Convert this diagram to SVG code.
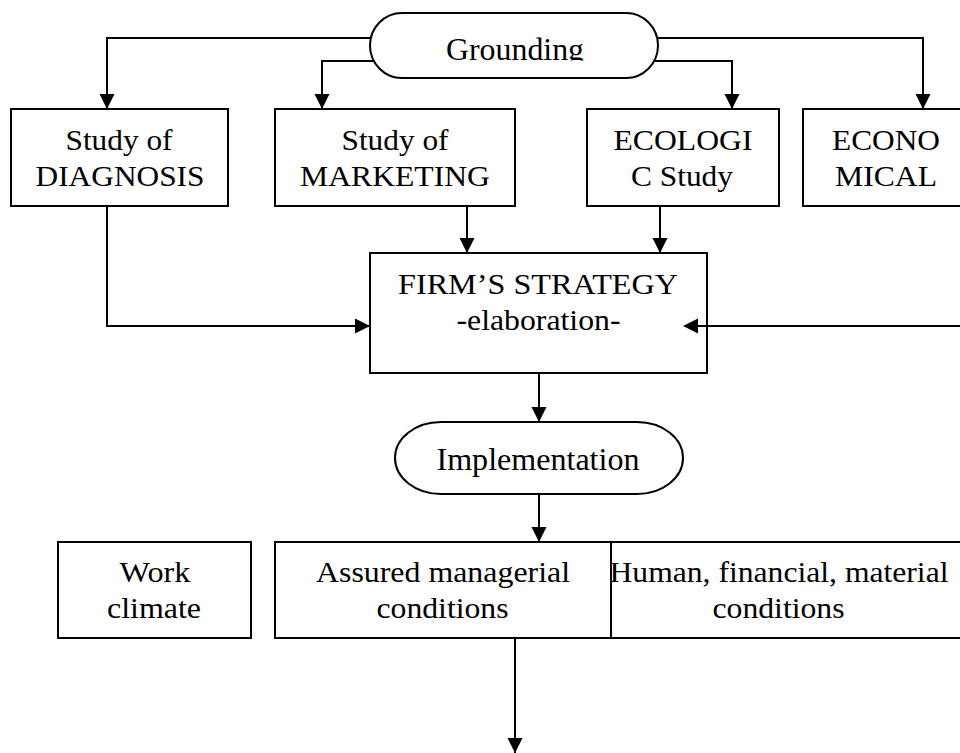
<svg xmlns="http://www.w3.org/2000/svg" width="960" height="753" viewBox="0 0 960 753">
  <style>
    .box { fill: #fff; stroke: #000; stroke-width: 2; }
    .wire { fill: none; stroke: #000; stroke-width: 2; }
    .lbl { font-family: "Liberation Serif", "Times New Roman", serif; font-size: 29px; fill: #000; text-anchor: middle; }
    .term { font-size: 32px; }
  </style>
  <defs>
    <marker id="arrow" markerUnits="userSpaceOnUse" markerWidth="16" markerHeight="16" viewBox="0 0 16 16" refX="15" refY="8" orient="auto">
      <path d="M0,0.5 L15,8 L0,15.5 Z" fill="#000"/>
    </marker>
    <clipPath id="groundClip">
      <rect x="370" y="13" width="290" height="47.5"/>
    </clipPath>
  </defs>

  <!-- connectors -->
  <g id="connectors">
    <polyline class="wire" points="372,38 107,38 107,109" marker-end="url(#arrow)"/>
    <polyline class="wire" points="375,61 322,61 322,109" marker-end="url(#arrow)"/>
    <polyline class="wire" points="655,61 732,61 732,109" marker-end="url(#arrow)"/>
    <polyline class="wire" points="656,38 923,38 923,109" marker-end="url(#arrow)"/>
    <polyline class="wire" points="107,206 107,326 370,326" marker-end="url(#arrow)"/>
    <line class="wire" x1="467" y1="206" x2="467" y2="253" marker-end="url(#arrow)"/>
    <line class="wire" x1="660" y1="206" x2="660" y2="253" marker-end="url(#arrow)"/>
    <line class="wire" x1="962" y1="326" x2="683" y2="326" marker-end="url(#arrow)"/>
    <line class="wire" x1="539" y1="373" x2="539" y2="422" marker-end="url(#arrow)"/>
    <line class="wire" x1="539" y1="494" x2="539" y2="542" marker-end="url(#arrow)"/>
    <line class="wire" x1="515" y1="638" x2="515" y2="753" marker-end="url(#arrow)"/>
  </g>

  <g id="grounding">
    <path class="box" d="M402,13 L626,13 A32,32.5 0 0 1 626,78 L402,78 A32,32.5 0 0 1 402,13 Z"/>
    <text class="lbl term" x="515" y="60" textLength="138" lengthAdjust="spacingAndGlyphs" clip-path="url(#groundClip)">Grounding</text>
  </g>

  <g id="diagnosis">
    <rect class="box" x="11" y="109" width="217" height="97"/>
    <text class="lbl" x="119" y="150" textLength="107" lengthAdjust="spacingAndGlyphs">Study of</text>
    <text class="lbl" x="120" y="186" textLength="169" lengthAdjust="spacingAndGlyphs">DIAGNOSIS</text>
  </g>

  <g id="marketing">
    <rect class="box" x="275" y="109" width="240" height="97"/>
    <text class="lbl" x="395" y="150" textLength="107" lengthAdjust="spacingAndGlyphs">Study of</text>
    <text class="lbl" x="395" y="186" textLength="190" lengthAdjust="spacingAndGlyphs">MARKETING</text>
  </g>

  <g id="ecologic">
    <rect class="box" x="587" y="109" width="192" height="97"/>
    <text class="lbl" x="683" y="150" textLength="139" lengthAdjust="spacingAndGlyphs">ECOLOGI</text>
    <text class="lbl" x="682" y="186" textLength="102" lengthAdjust="spacingAndGlyphs">C Study</text>
  </g>

  <g id="economical">
    <rect class="box" x="803" y="109" width="170" height="97"/>
    <text class="lbl" x="886" y="150" textLength="108" lengthAdjust="spacingAndGlyphs">ECONO</text>
    <text class="lbl" x="886" y="186" textLength="102" lengthAdjust="spacingAndGlyphs">MICAL</text>
  </g>

  <g id="strategy">
    <rect class="box" x="370" y="253" width="337" height="120"/>
    <text class="lbl" x="538" y="294" textLength="280" lengthAdjust="spacingAndGlyphs">FIRM’S STRATEGY</text>
    <text class="lbl" x="538.5" y="330" textLength="164" lengthAdjust="spacingAndGlyphs">-elaboration-</text>
  </g>
  <!-- incoming arrow from the right ends inside the strategy box -->
  <line class="wire" x1="707" y1="326" x2="697" y2="326"/>
  <path d="M683,326 L698,318.5 L698,333.5 Z" fill="#000"/>

  <g id="implementation">
    <path class="box" d="M441,422 L637,422 A46,36 0 0 1 637,494 L441,494 A46,36 0 0 1 441,422 Z"/>
    <text class="lbl term" x="538" y="470" textLength="203" lengthAdjust="spacingAndGlyphs">Implementation</text>
  </g>

  <g id="work-climate">
    <rect class="box" x="58" y="542" width="193" height="96"/>
    <text class="lbl" x="155" y="582" textLength="71" lengthAdjust="spacingAndGlyphs">Work</text>
    <text class="lbl" x="154" y="618" textLength="94" lengthAdjust="spacingAndGlyphs">climate</text>
  </g>

  <g id="resources">
    <rect class="box" x="587" y="542" width="385" height="96"/>
  </g>

  <g id="managerial">
    <rect class="box" x="275" y="542" width="336" height="96"/>
    <text class="lbl" x="443" y="582" textLength="254" lengthAdjust="spacingAndGlyphs">Assured managerial</text>
    <text class="lbl" x="442.5" y="618" textLength="132" lengthAdjust="spacingAndGlyphs">conditions</text>
  </g>

  <g id="resources-label">
    <text class="lbl" x="779" y="582" textLength="339" lengthAdjust="spacingAndGlyphs">Human, financial, material</text>
    <text class="lbl" x="778.5" y="618" textLength="132" lengthAdjust="spacingAndGlyphs">conditions</text>
  </g>
</svg>
